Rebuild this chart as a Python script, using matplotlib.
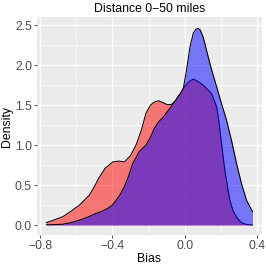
import matplotlib
matplotlib.use("Agg")
import matplotlib.pyplot as plt
import numpy as np

plt.rcParams['font.family'] = ['Liberation Sans', 'DejaVu Sans']

# Density curve (group 1, red)
red_x = [-0.765, -0.72, -0.674, -0.63, -0.582, -0.527, -0.50, -0.472, -0.44, -0.398,
         -0.365, -0.334, -0.30, -0.27, -0.24, -0.215, -0.19, -0.169, -0.145, -0.12,
         -0.095, -0.074, -0.05, -0.025, 0.0, 0.025, 0.046, 0.07, 0.101, 0.128,
         0.147, 0.175, 0.184, 0.193, 0.202, 0.220, 0.235, 0.248, 0.265, 0.285,
         0.305, 0.321, 0.345, 0.373]
red_y = [0.03, 0.065, 0.104, 0.17, 0.25, 0.375, 0.48, 0.60, 0.71, 0.79,
         0.80, 0.79, 0.87, 1.00, 1.19, 1.40, 1.50, 1.54, 1.555, 1.53,
         1.505, 1.51, 1.56, 1.65, 1.74, 1.80, 1.825, 1.80, 1.75, 1.69,
         1.646, 1.48, 1.354, 1.19, 1.02, 0.69, 0.48, 0.31, 0.18, 0.10,
         0.045, 0.02, 0.005, 0.0]

# Density curve (group 2, blue)
blue_x = [-0.765, -0.72, -0.674, -0.63, -0.582, -0.535, -0.49, -0.455, -0.426, -0.40,
          -0.38, -0.355, -0.334, -0.31, -0.288, -0.252, -0.215, -0.19, -0.169, -0.145,
          -0.12, -0.08, -0.046, -0.025, -0.009, 0.009, 0.028, 0.046, 0.06, 0.073,
          0.085, 0.101, 0.119, 0.138, 0.156, 0.175, 0.202, 0.23, 0.257, 0.285,
          0.312, 0.34, 0.373]
blue_y = [0.003, 0.005, 0.01, 0.03, 0.06, 0.10, 0.146, 0.175, 0.208, 0.25,
          0.31, 0.39, 0.48, 0.62, 0.77, 0.92, 1.00, 1.10, 1.21, 1.29,
          1.35, 1.47, 1.58, 1.64, 1.71, 1.94, 2.23, 2.40, 2.45, 2.46,
          2.44, 2.35, 2.19, 2.02, 1.875, 1.73, 1.52, 1.31, 1.06, 0.77,
          0.52, 0.31, 0.166]

x_ticks = [-0.8, -0.4, 0.0, 0.4]
x_tick_labels = ["\u22120.8", "\u22120.4", "0.0", "0.4"]
y_ticks = [0.0, 0.5, 1.0, 1.5, 2.0, 2.5]
y_tick_labels = ["0.0", "0.5", "1.0", "1.5", "2.0", "2.5"]

fig = plt.figure(figsize=(2.66, 2.66), dpi=100)
ax = fig.add_axes([0.138, 0.1165, 0.846, 0.8185])
ax.set_facecolor('#EBEBEB')

ax.fill_between(red_x, 0, red_y, color='red', alpha=0.5, linewidth=0, zorder=2)
ax.plot(red_x, red_y, color='black', lw=0.75, zorder=3)
ax.fill_between(blue_x, 0, blue_y, color='blue', alpha=0.5, linewidth=0, zorder=4)
ax.plot(blue_x, blue_y, color='black', lw=0.75, zorder=5)

ax.set_xlim(-0.818, 0.424)
ax.set_ylim(-0.125, 2.60)

ax.set_xticks(x_ticks)
ax.set_xticklabels(x_tick_labels)
ax.set_yticks(y_ticks)
ax.set_yticklabels(y_tick_labels)
ax.set_xticks([-0.6, -0.2, 0.2], minor=True)
ax.set_yticks([0.25, 0.75, 1.25, 1.75, 2.25], minor=True)

ax.grid(which='major', color='white', lw=0.9, zorder=1)
ax.grid(which='minor', color='white', lw=0.45, zorder=1)
ax.set_axisbelow(True)
for s in ax.spines.values():
    s.set_visible(False)

ax.tick_params(which='major', length=2.2, width=0.6, color='#333333',
               labelcolor='#4D4D4D', labelsize=8.8, pad=1.2)
ax.tick_params(which='minor', length=0)

ax.set_xlabel('Bias', fontsize=8.8, labelpad=1)
ax.set_ylabel('Density', fontsize=8.8, labelpad=1.5)
ax.set_title('Distance 0\u221250 miles', fontsize=8.8, pad=3.5)

fig.savefig('out.png', dpi=100)
